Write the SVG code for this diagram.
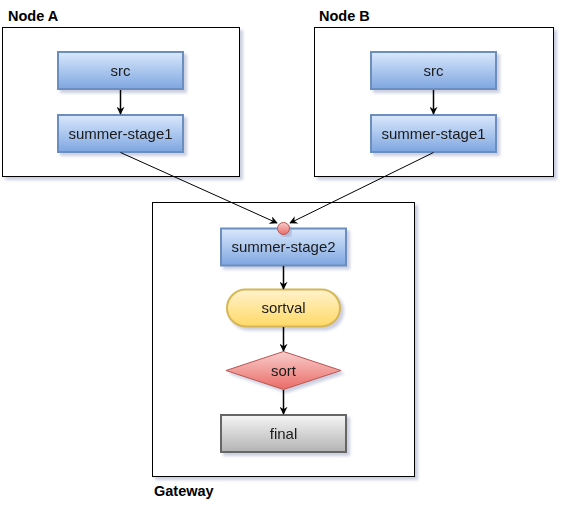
<svg xmlns="http://www.w3.org/2000/svg" width="563" height="513" viewBox="0 0 563 513">
  <defs>
    <linearGradient id="gBlue" x1="0" y1="0" x2="0" y2="1">
      <stop offset="0" stop-color="#dae8fc"/>
      <stop offset="1" stop-color="#7ea6e0"/>
    </linearGradient>
    <linearGradient id="gYellow" x1="0" y1="0" x2="0" y2="1">
      <stop offset="0" stop-color="#fff2cc"/>
      <stop offset="1" stop-color="#ffd966"/>
    </linearGradient>
    <linearGradient id="gRed" x1="0" y1="0" x2="0" y2="1">
      <stop offset="0" stop-color="#f8cecc"/>
      <stop offset="1" stop-color="#ea6b66"/>
    </linearGradient>
    <linearGradient id="gGray" x1="0" y1="0" x2="0" y2="1">
      <stop offset="0" stop-color="#f5f5f5"/>
      <stop offset="1" stop-color="#b3b3b3"/>
    </linearGradient>
    <filter id="shadow" x="-10%" y="-10%" width="130%" height="130%">
      <feGaussianBlur in="SourceAlpha" stdDeviation="1.7"/>
      <feOffset dx="3" dy="3" result="b"/>
      <feFlood flood-color="#8a93b8" flood-opacity="0.45"/>
      <feComposite in2="b" operator="in"/>
      <feMerge>
        <feMergeNode/>
        <feMergeNode in="SourceGraphic"/>
      </feMerge>
    </filter>
    <marker id="arrow" viewBox="0 0 10 10" refX="9" refY="5" markerWidth="8" markerHeight="8" markerUnits="userSpaceOnUse" orient="auto">
      <path d="M0,0 L10,5 L0,10 L3,5 Z" fill="#000"/>
    </marker>
  </defs>
  <style>
    .container { fill: #ffffff; stroke: #000000; stroke-width: 1; }
    .blue { fill: url(#gBlue); stroke: #6c8ebf; stroke-width: 2; }
    .yellow { fill: url(#gYellow); stroke: #d6b656; stroke-width: 2; }
    .red { fill: url(#gRed); stroke: #b85450; stroke-width: 1; }
    .gray { fill: url(#gGray); stroke: #666666; stroke-width: 2; }
    .lbl { font-family: "Liberation Sans", Arial, sans-serif; font-size: 15px; fill: #1a1a1a; text-anchor: middle; }
    .title { font-family: "Liberation Sans", Arial, sans-serif; font-size: 14.5px; font-weight: bold; fill: #000; }
    .edge { fill: none; stroke: #000; stroke-width: 1; }
    .edge2 { fill: none; stroke: #000; stroke-width: 1.5; }
  </style>

  <!-- containers -->
  <g id="nodeA">
    <rect class="container" x="2.5" y="27.5" width="237" height="149" filter="url(#shadow)"/>
    <text class="title" x="8" y="21">Node A</text>
  </g>
  <g id="nodeB">
    <rect class="container" x="314.5" y="27.5" width="239" height="149" filter="url(#shadow)"/>
    <text class="title" x="319" y="21">Node B</text>
  </g>
  <g id="gateway">
    <rect class="container" x="152.5" y="202.5" width="262" height="274" filter="url(#shadow)"/>
    <text class="title" x="154" y="496">Gateway</text>
  </g>

  <!-- Node A contents -->
  <g id="a-src" filter="url(#shadow)">
    <rect class="blue" x="58" y="52" width="125" height="37"/>
    <text class="lbl" x="120.5" y="75.5">src</text>
  </g>
  <g id="a-stage1" filter="url(#shadow)">
    <rect class="blue" x="58" y="115" width="125" height="37"/>
    <text class="lbl" x="120.5" y="138.5">summer-stage1</text>
  </g>

  <!-- Node B contents -->
  <g id="b-src" filter="url(#shadow)">
    <rect class="blue" x="371" y="52" width="125" height="37"/>
    <text class="lbl" x="433.5" y="75.5">src</text>
  </g>
  <g id="b-stage1" filter="url(#shadow)">
    <rect class="blue" x="371" y="115" width="125" height="37"/>
    <text class="lbl" x="433.5" y="138.5">summer-stage1</text>
  </g>

  <!-- Gateway contents -->
  <g id="stage2" filter="url(#shadow)">
    <rect class="blue" x="221" y="228.5" width="125" height="37"/>
    <text class="lbl" x="283.5" y="252">summer-stage2</text>
  </g>
  <g id="sortval" filter="url(#shadow)">
    <rect class="yellow" x="227" y="289.5" width="113" height="37" rx="18.5" ry="18.5"/>
    <text class="lbl" x="283.5" y="313">sortval</text>
  </g>
  <g id="sort" filter="url(#shadow)">
    <polygon class="red" points="283.5,351.5 341,370.5 283.5,389.5 226,370.5"/>
    <text class="lbl" x="283.5" y="375.5">sort</text>
  </g>
  <g id="final" filter="url(#shadow)">
    <rect class="gray" x="221" y="415" width="125" height="37"/>
    <text class="lbl" x="283.5" y="438.5">final</text>
  </g>

  <!-- connectors -->
  <g id="connectors">
    <line class="edge2" x1="120.5" y1="90" x2="120.5" y2="114" marker-end="url(#arrow)"/>
    <line class="edge2" x1="433.5" y1="90" x2="433.5" y2="114" marker-end="url(#arrow)"/>
    <line class="edge" x1="120.5" y1="152.5" x2="277" y2="223" marker-end="url(#arrow)"/>
    <line class="edge" x1="433.5" y1="152.5" x2="290" y2="223" marker-end="url(#arrow)"/>
    <line class="edge2" x1="283.5" y1="266" x2="283.5" y2="289" marker-end="url(#arrow)"/>
    <line class="edge2" x1="283.5" y1="327" x2="283.5" y2="351" marker-end="url(#arrow)"/>
    <line class="edge2" x1="283.5" y1="390" x2="283.5" y2="414" marker-end="url(#arrow)"/>
  </g>

  <!-- merge point -->
  <g id="merge" filter="url(#shadow)">
    <circle cx="283.5" cy="228.5" r="6" fill="url(#gRed)" stroke="#b85450" stroke-width="1"/>
  </g>
</svg>
